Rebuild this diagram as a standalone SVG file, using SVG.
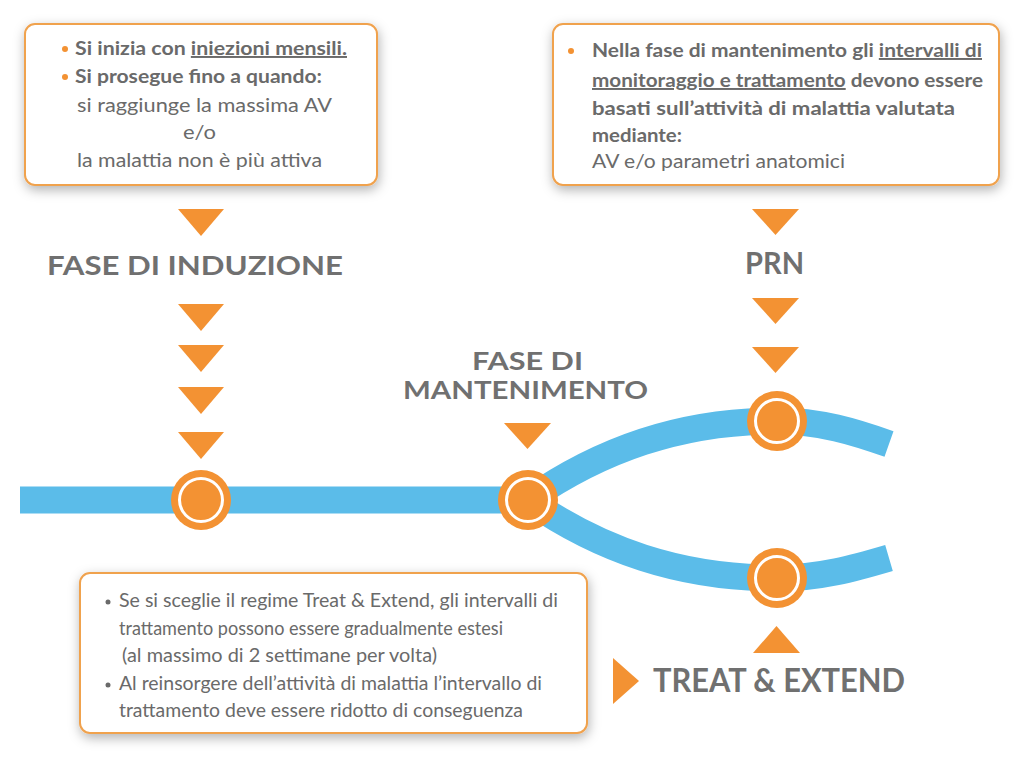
<svg xmlns="http://www.w3.org/2000/svg" width="1024" height="757" viewBox="0 0 1024 757">
<defs>
<filter id="sh" x="-10%" y="-20%" width="120%" height="150%">
<feDropShadow dx="1" dy="4" stdDeviation="6" flood-color="#000" flood-opacity="0.3"/>
</filter>
<style>
.box{fill:#fff;stroke:#F0A24E;stroke-width:2}
.t{font-family:Lato,"Open Sans","Liberation Sans",sans-serif;font-size:19.5px;fill:#6a6a6a}
.b{font-weight:700}
.h{font-family:Lato,"Open Sans","Liberation Sans",sans-serif;font-weight:700;fill:#707070}
.tri{fill:#F39233}
.track{fill:none;stroke:#5BBCE9;stroke-width:27;stroke-linecap:butt}
.node{fill:#F39233}
.ring{fill:none;stroke:#fff;stroke-width:3}
.u{text-decoration:underline}
</style>
</defs>
<rect width="1024" height="757" fill="#fff"/>

<g id="connectors">
<path class="track" d="M20 500 L528 500"/>
<path class="track" d="M528 500 C600 450 680 421 777 421 C820 421 855 432 889 444"/>
<path class="track" d="M528 500 C600 550 680 578 777 578 C820 578 855 568 889 558"/>
</g>

<g id="arrows">
<polygon class="tri" points="178,209 224,209 201,236"/>
<polygon class="tri" points="178,304 224,304 201,331"/>
<polygon class="tri" points="178,345 224,345 201,372"/>
<polygon class="tri" points="178,387 224,387 201,414"/>
<polygon class="tri" points="178,432 224,432 201,459"/>
<polygon class="tri" points="504,423 551,423 527.5,449"/>
<polygon class="tri" points="752,209 799,209 775.5,235"/>
<polygon class="tri" points="752,298 799,298 775.5,324"/>
<polygon class="tri" points="752,347 799,347 775.5,373"/>
<polygon class="tri" points="753,653 800,653 776.5,626"/>
<polygon class="tri" points="613,658 639,681 613,704"/>
</g>

<g id="node-induzione"><circle class="node" cx="201" cy="500" r="30"/><circle class="ring" cx="201" cy="500" r="21.5"/></g>
<g id="node-mantenimento"><circle class="node" cx="528" cy="500" r="30"/><circle class="ring" cx="528" cy="500" r="21.5"/></g>
<g id="node-prn"><circle class="node" cx="777" cy="421" r="30"/><circle class="ring" cx="777" cy="421" r="21.5"/></g>
<g id="node-te"><circle class="node" cx="777" cy="578" r="30"/><circle class="ring" cx="777" cy="578" r="21.5"/></g>

<g id="label-induzione"><text class="h" x="47" y="275" font-size="27" textLength="296" lengthAdjust="spacingAndGlyphs">FASE DI INDUZIONE</text></g>
<g id="label-prn"><text class="h" x="745" y="274" font-size="30" textLength="59" lengthAdjust="spacingAndGlyphs">PRN</text></g>
<g id="label-mantenimento">
<text class="h" x="472" y="370" font-size="24" textLength="111" lengthAdjust="spacingAndGlyphs">FASE DI</text>
<text class="h" x="403" y="399" font-size="24" textLength="245" lengthAdjust="spacingAndGlyphs">MANTENIMENTO</text>
</g>
<g id="label-te"><text class="h" x="653" y="692" font-size="33" textLength="252" lengthAdjust="spacingAndGlyphs">TREAT &amp; EXTEND</text></g>

<g id="box-induzione">
<rect class="box" x="25" y="24" width="352" height="161" rx="10" filter="url(#sh)"/>
<circle cx="65" cy="49" r="3" fill="#F39233"/>
<circle cx="65" cy="77" r="3" fill="#F39233"/>
<text class="t b" x="75" y="55" textLength="272" lengthAdjust="spacingAndGlyphs">Si inizia con <tspan class="u">iniezioni mensili.</tspan></text>
<text class="t b" x="75" y="83" textLength="247" lengthAdjust="spacingAndGlyphs">Si prosegue fino a quando:</text>
<text class="t" x="77" y="112" textLength="255" lengthAdjust="spacingAndGlyphs">si raggiunge la massima AV</text>
<text class="t" x="183" y="139" textLength="33" lengthAdjust="spacingAndGlyphs">e/o</text>
<text class="t" x="77" y="167" textLength="245" lengthAdjust="spacingAndGlyphs">la malattia non è più attiva</text>
</g>

<g id="box-mantenimento">
<rect class="box" x="553" y="24" width="446" height="161" rx="10" filter="url(#sh)"/>
<circle cx="571" cy="51" r="3" fill="#F39233"/>
<text class="t b" x="592" y="57" textLength="390" lengthAdjust="spacingAndGlyphs">Nella fase di mantenimento gli <tspan class="u">intervalli di</tspan></text>
<text class="t b" x="592" y="87" textLength="391" lengthAdjust="spacingAndGlyphs"><tspan class="u">monitoraggio e trattamento</tspan> devono essere</text>
<text class="t b" x="592" y="115" textLength="363" lengthAdjust="spacingAndGlyphs">basati sull’attività di malattia valutata</text>
<text class="t b" x="592" y="142" textLength="90" lengthAdjust="spacingAndGlyphs">mediante:</text>
<text class="t" x="592" y="168" textLength="253" lengthAdjust="spacingAndGlyphs">AV e/o parametri anatomici</text>
</g>

<g id="box-te">
<rect class="box" x="80" y="573" width="507" height="160" rx="10" filter="url(#sh)"/>
<circle cx="108" cy="602" r="2.5" fill="#6a6a6a"/>
<circle cx="108" cy="685" r="2.5" fill="#6a6a6a"/>
<text class="t" x="119" y="607" textLength="439" lengthAdjust="spacingAndGlyphs">Se si sceglie il regime Treat &amp; Extend, gli intervalli di</text>
<text class="t" x="119" y="635" textLength="384" lengthAdjust="spacingAndGlyphs">trattamento possono essere gradualmente estesi</text>
<text class="t" x="122" y="662" textLength="315" lengthAdjust="spacingAndGlyphs">(al massimo di 2 settimane per volta)</text>
<text class="t" x="119" y="690" textLength="423" lengthAdjust="spacingAndGlyphs">Al reinsorgere dell’attività di malattia l’intervallo di</text>
<text class="t" x="119" y="717" textLength="404" lengthAdjust="spacingAndGlyphs">trattamento deve essere ridotto di conseguenza</text>
</g>
</svg>
